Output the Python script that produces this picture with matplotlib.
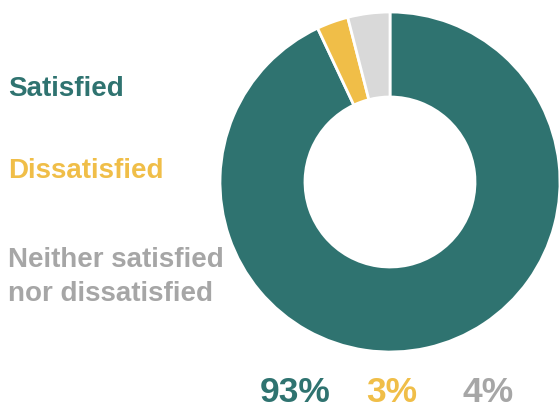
import matplotlib
matplotlib.use("Agg")
import matplotlib.pyplot as plt

labels = ["Satisfied", "Dissatisfied", "Neither satisfied\nnor dissatisfied"]
shares = [93, 3, 4]
colors = ["#2F7370", "#F0BE48", "#D9D9D9"]
text_colors = ["#2F7370", "#F0BE48", "#A6A6A6"]

plt.rcParams["font.family"] = ["Liberation Sans", "DejaVu Sans"]

fig = plt.figure(figsize=(5.6, 4.08), dpi=100)
ax = fig.add_axes([0, 0, 1, 1])

ax.pie(shares, colors=colors, startangle=90, counterclock=False,
       center=(390, 226), radius=170,
       wedgeprops=dict(width=85, edgecolor="white", linewidth=2))
ax.set_xlim(0, 560)
ax.set_ylim(0, 408)
ax.set_aspect("equal")
ax.axis("off")

# category labels on the left
label_y = [319, 237, 131]
for lab, y, c in zip(labels, label_y, text_colors):
    ax.text(8, y, lab, color=c, fontsize=20, fontweight="bold",
            ha="left", va="center", linespacing=1.42)

# percentage labels under the ring
pct_x = [295, 392, 488]
for v, x, c in zip(shares, pct_x, text_colors):
    ax.text(x, 16, f"{v}%", color=c, fontsize=25.5, fontweight="bold",
            ha="center", va="center")

fig.savefig("out.png", dpi=100)
